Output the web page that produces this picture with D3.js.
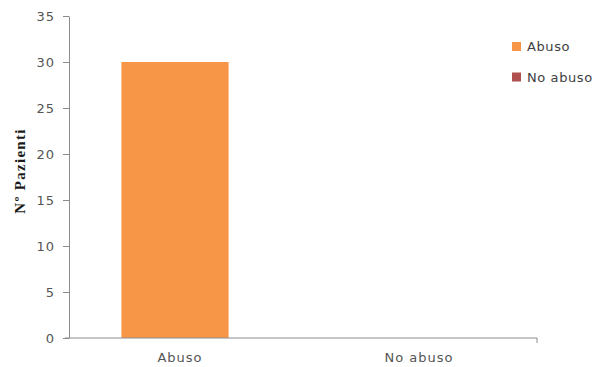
<!DOCTYPE html>
<html>
<head>
<meta charset="utf-8">
<script src="https://cdn.jsdelivr.net/npm/d3@7"></script>
<style>
  html, body { margin: 0; padding: 0; background: #ffffff; }
  svg { display: block; }
</style>
</head>
<body>
<svg id="chart" width="595" height="367"></svg>
<script>
// Categories on the x axis and the two series drawn for each of them
const categories = ["Abuso", "No abuso"];
const seriesNames = ["Abuso", "No abuso"];
const seriesAbuso = [30, 0];
const seriesNoAbuso = [0, 0];
const yTicks = [0, 5, 10, 15, 20, 25, 30, 35];
const yTitle = "Nº Pazienti";

const colors = { "Abuso": "#f79646", "No abuso": "#b0504e" };

const svg = d3.select("#chart");
const plot = { left: 69, right: 537, top: 16, bottom: 338 };

const x = d3.scaleBand().domain(categories).range([plot.left, plot.right]).padding(0);
const y = d3.scaleLinear().domain([0, 35]).range([plot.bottom, plot.top]);

// overlapping clustered bars: each series is shifted a little from the band centre
const barWidth = x.bandwidth() * 0.458;
const offset = d3.scalePoint().domain(seriesNames).range([-11, 11]);

const data = [];
categories.forEach((c, i) => {
  data.push({ cat: c, series: "Abuso", value: seriesAbuso[i] });
  data.push({ cat: c, series: "No abuso", value: seriesNoAbuso[i] });
});

svg.append("g")
  .selectAll("rect")
  .data(data.filter(d => d.value > 0))
  .join("rect")
  .attr("x", d => x(d.cat) + x.bandwidth() / 2 + offset(d.series) - barWidth / 2)
  .attr("y", d => y(d.value))
  .attr("width", barWidth)
  .attr("height", d => y(0) - y(d.value))
  .attr("fill", d => colors[d.series]);

const axisColor = "#8c8c8c";
const labelColor = "#555555";
const font = "DejaVu Sans, Verdana, sans-serif";

// y axis
const yAxis = svg.append("g")
  .attr("transform", `translate(${plot.left},0)`)
  .call(d3.axisLeft(y).tickValues(yTicks).tickSize(6).tickPadding(8).tickSizeOuter(0));
yAxis.select(".domain").attr("stroke", axisColor);
yAxis.selectAll(".tick line").attr("stroke", axisColor);
yAxis.selectAll(".tick text")
  .attr("fill", labelColor)
  .style("font-family", font)
  .style("font-size", "13px")
  .style("letter-spacing", "1px");

// x axis: ticks only at the outer ends of the categories
const xAxis = svg.append("g")
  .attr("transform", `translate(0,${plot.bottom})`)
  .call(d3.axisBottom(x).tickSize(0).tickPadding(15).tickSizeOuter(5));
xAxis.select(".domain").attr("stroke", axisColor);
xAxis.selectAll(".tick text")
  .attr("fill", labelColor)
  .attr("dx", (d, i) => i === 0 ? -6 : -1)
  .style("font-family", font)
  .style("font-size", "13px")
  .style("letter-spacing", "1px");
// d3's outer ticks go downward; the left one sits below the y axis
xAxis.select(".domain").attr("d", `M${plot.left - 4},0H${plot.right}V5`);

// y axis title
svg.append("text")
  .attr("transform", `translate(25,171) rotate(-90)`)
  .attr("text-anchor", "middle")
  .attr("fill", "#1a1a1a")
  .style("font-family", "Liberation Serif, Times New Roman, serif")
  .style("font-weight", "bold")
  .style("font-size", "15px")
  .style("letter-spacing", "1.3px")
  .text(yTitle);

// legend
const legend = svg.append("g").attr("transform", "translate(512,42)");
seriesNames.forEach((s, i) => {
  const g = legend.append("g").attr("transform", `translate(0,${i * 30.5})`);
  g.append("rect").attr("width", 9).attr("height", 9).attr("fill", colors[s]);
  g.append("text")
    .attr("x", 15)
    .attr("y", 9)
    .attr("fill", "#404040")
    .style("font-family", font)
    .style("font-size", "13px")
    .style("letter-spacing", "0.6px")
    .text(s);
});
</script>
</body>
</html>
